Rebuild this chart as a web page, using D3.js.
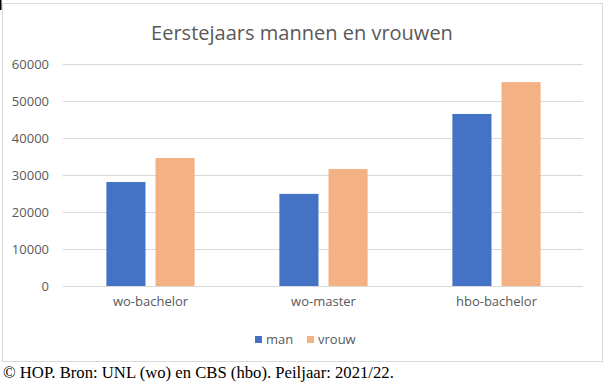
<!DOCTYPE html>
<html><head><meta charset="utf-8">
<script src="https://cdn.jsdelivr.net/npm/d3@7"></script>
<style>body{margin:0;background:#fff}svg{display:block}</style>
</head><body>
<svg id="c" width="608" height="391"></svg>
<script>
const categories = ["wo-bachelor", "wo-master", "hbo-bachelor"];
const seriesNames = ["man", "vrouw"];
const man = [28100, 24900, 46500];
const vrouw = [34600, 31600, 55100];
const yTicks = [0, 10000, 20000, 30000, 40000, 50000, 60000];
const title = "Eerstejaars mannen en vrouwen";
const footer = "© HOP. Bron: UNL (wo) en CBS (hbo). Peiljaar: 2021/22.";

const colors = {man: "#4472C4", vrouw: "#F4B183"};
const values = {man, vrouw};
const svg = d3.select("#c");
const font = "'Open Sans', sans-serif";
const gray = "#595959";

function fit(sel, w) {
  const n = sel.node();
  const fs = parseFloat(sel.attr("font-size"));
  const len = n.getComputedTextLength();
  sel.attr("font-size", (fs * w / len).toFixed(2));
}

// chart border
svg.append("rect").attr("x", 2.5).attr("y", 3.5).attr("width", 600).attr("height", 358)
  .attr("fill", "#fff").attr("stroke", "#d9d9d9").attr("stroke-width", 1);
svg.append("rect").attr("x", 0).attr("y", 0).attr("width", 1.5).attr("height", 10).attr("fill", "#000");

const x0 = d3.scaleBand().domain(categories).range([64, 583]).paddingInner(0.49).paddingOuter(0.245);
const x1 = d3.scaleBand().domain(seriesNames).range([0, x0.bandwidth()]).paddingInner(0.204);
const y = d3.scaleLinear().domain([0, 60000]).range([286, 64]);

// gridlines
svg.append("g").selectAll("line").data(yTicks).join("line")
  .attr("x1", 63).attr("x2", 583)
  .attr("y1", d => Math.round(y(d)) + 0.5).attr("y2", d => Math.round(y(d)) + 0.5)
  .attr("stroke", "#d9d9d9").attr("stroke-width", 1);

// y labels
const yAxis = d3.axisLeft(y).tickValues(yTicks).tickSize(0).tickPadding(0).tickFormat(d3.format("d"));
const ya = svg.append("g").attr("transform", "translate(49,0)").call(yAxis);
ya.select(".domain").remove();
ya.selectAll("text").attr("fill", gray).attr("font-family", font).attr("font-size", 13);

// bars
const groups = svg.append("g").selectAll("g").data(categories).join("g")
  .attr("transform", d => `translate(${x0(d)},0)`);
groups.selectAll("rect").data((d, i) => seriesNames.map(s => ({s, v: values[s][i]}))).join("rect")
  .attr("x", d => x1(d.s)).attr("width", x1.bandwidth())
  .attr("y", d => y(d.v)).attr("height", d => y(0) - y(d.v))
  .attr("fill", d => colors[d.s]);

// x labels
const xAxis = d3.axisBottom(x0).tickSize(0).tickPadding(0);
const xa = svg.append("g").attr("transform", "translate(0,297)").call(xAxis);
xa.select(".domain").remove();
xa.selectAll("text").attr("fill", gray).attr("font-family", font).attr("font-size", 13).attr("dy", "0.71em");

// title
const t = svg.append("text").attr("x", 302).attr("y", 40).attr("text-anchor", "middle")
  .attr("fill", gray).attr("font-family", font).attr("font-size", 20).text(title);
fit(t, 302);

// legend
const legX = {man: 255, vrouw: 307};
const lg = svg.append("g").selectAll("g").data(seriesNames).join("g")
  .attr("transform", d => `translate(${legX[d]},0)`);
lg.append("rect").attr("x", 0).attr("y", 336).attr("width", 7).attr("height", 7).attr("fill", d => colors[d]);
lg.append("text").attr("x", 11).attr("y", 339.5).attr("dy", "0.35em")
  .attr("fill", gray).attr("font-family", font).attr("font-size", 13).text(d => d);

// footer
const f = svg.append("text").attr("x", 3).attr("y", 378).attr("fill", "#000")
  .attr("font-family", "'Liberation Serif', 'Times New Roman', serif").attr("font-size", 15).text(footer);
fit(f, 391);
</script>
</body></html>
